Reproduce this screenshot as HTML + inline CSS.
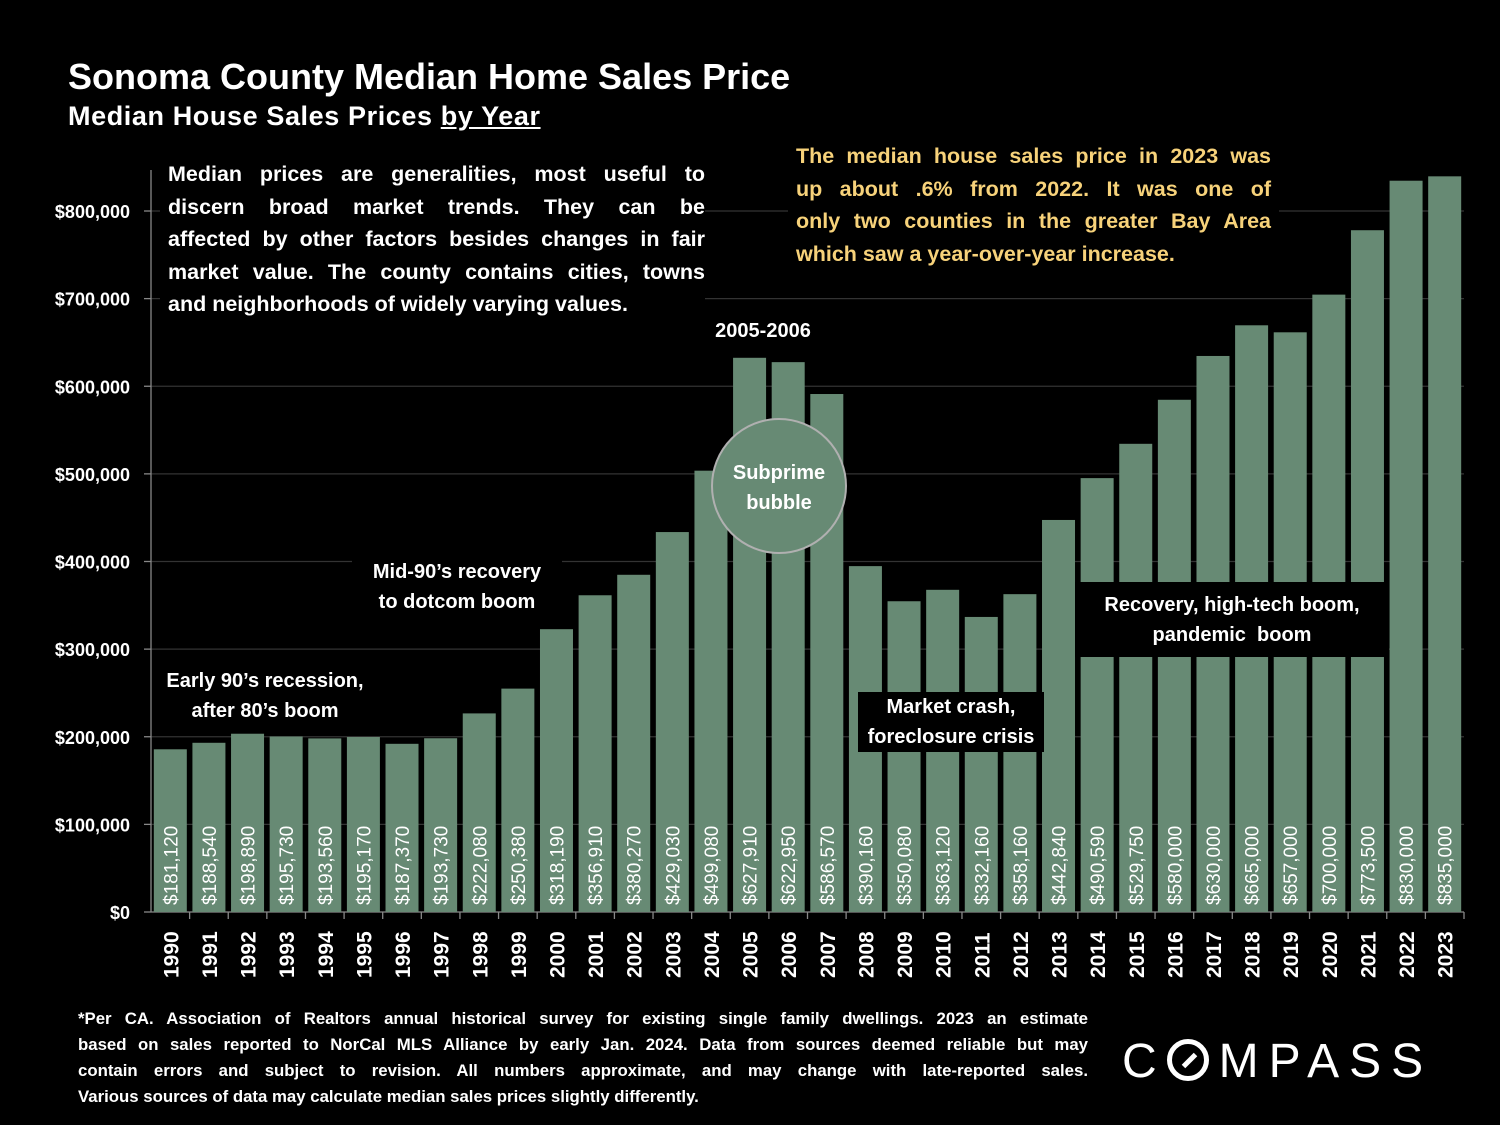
<!DOCTYPE html>
<html><head><meta charset="utf-8"><style>
body{margin:0;background:#000;width:1500px;height:1125px;overflow:hidden;font-family:"Liberation Sans",sans-serif;color:#fff}
.t{position:absolute;white-space:nowrap}
.j span{display:block;text-align:justify;text-align-last:justify}
.j span.l{text-align-last:left}
</style></head><body>
<div class="t" style="left:68px;top:56px;font-size:36px;font-weight:bold">Sonoma County Median Home Sales Price</div>
<div class="t" style="left:68px;top:101px;font-size:27px;font-weight:bold;letter-spacing:0.6px">Median House Sales Prices <u>by Year</u></div>
<svg id="c" width="1500" height="1125" style="position:absolute;left:0;top:0"></svg>
<div class="t j" style="left:160px;top:158px;width:537px;font-size:21.5px;font-weight:bold;line-height:32.5px;background:#000;padding:0 0 0 8px;white-space:nowrap"><span>Median prices are generalities, most useful to</span><span>discern broad market trends. They can be</span><span>affected by other factors besides changes in fair</span><span>market value. The county contains cities, towns</span><span class="l">and neighborhoods of widely varying values.</span></div>
<div class="t j" style="left:788px;top:140px;width:475px;font-size:21.5px;font-weight:bold;line-height:32.5px;color:#f7d27a;background:#000;padding:0 8px"><span>The median house sales price in 2023 was</span><span>up about .6% from 2022. It was one of</span><span>only two counties in the greater Bay Area</span><span class="l">which saw a year-over-year increase.</span></div>
<div class="t" style="left:155px;top:666px;width:220px;text-align:center;font-size:20px;font-weight:bold;line-height:30px;background:#000">Early 90’s recession,<br>after 80’s boom</div>
<div class="t" style="left:352px;top:557px;width:210px;text-align:center;font-size:20px;font-weight:bold;line-height:30px;background:#000">Mid-90’s recovery<br>to dotcom boom</div>
<div class="t" style="left:700px;top:320px;width:126px;text-align:center;font-size:20px;font-weight:bold;background:#000">2005-2006</div>
<div class="t" style="left:711px;top:418px;width:136px;height:136px;border:2px solid #b0b0b0;border-radius:50%;background:#678a74;text-align:center;font-size:20px;font-weight:bold;line-height:30px;box-sizing:border-box;padding-top:38px">Subprime<br>bubble</div>
<div class="t" style="left:858px;top:692px;width:186px;text-align:center;font-size:20px;font-weight:bold;line-height:30px;background:#000">Market crash,<br>foreclosure crisis</div>
<div class="t" style="left:1075px;top:582px;width:314px;height:75px;text-align:center;font-size:20px;font-weight:bold;line-height:30px;background:#000;padding-top:8px;box-sizing:border-box">Recovery, high-tech boom,<br>pandemic &nbsp;boom</div>
<div class="t j" style="left:78px;top:1006px;width:1010px;font-size:16.8px;font-weight:bold;line-height:26px"><span>*Per CA. Association of Realtors annual historical survey for existing single family dwellings. 2023 an estimate</span><span>based on sales reported to NorCal MLS Alliance by early Jan. 2024. Data from sources deemed reliable but may</span><span>contain errors and subject to revision. All numbers approximate, and may change with late-reported sales.</span><span class="l">Various sources of data may calculate median sales prices slightly differently.</span></div>
<div class="t" style="left:1122px;top:1034px;font-size:48px;letter-spacing:10px;font-weight:normal">C<span style="display:inline-block;width:42px;height:42px;border:5px solid #fff;border-radius:50%;box-sizing:border-box;vertical-align:-4px;position:relative;margin-right:10px"><span style="position:absolute;left:9px;top:14px;width:17px;height:5px;background:#fff;transform:rotate(-45deg)"></span></span>MPASS</div>
<script>
const years=[1990,1991,1992,1993,1994,1995,1996,1997,1998,1999,2000,2001,2002,2003,2004,2005,2006,2007,2008,2009,2010,2011,2012,2013,2014,2015,2016,2017,2018,2019,2020,2021,2022,2023];
const prices=[181120,188540,198890,195730,193560,195170,187370,193730,222080,250380,318190,356910,380270,429030,499080,627910,622950,586570,390160,350080,363120,332160,358160,442840,490590,529750,580000,630000,665000,657000,700000,773500,830000,835000];
const ticks=[0,100000,200000,300000,400000,500000,600000,700000,800000];
const svg=document.getElementById('c');const NS='http://www.w3.org/2000/svg';
const X0=151,X1=1464,Y0=912,K=701/800000;
const bw=(X1-X0)/years.length;
const y=v=>Y0-v*K;
function mk(t,a){const e=document.createElementNS(NS,t);for(const k in a)e.setAttribute(k,a[k]);svg.appendChild(e);return e;}
ticks.forEach(v=>{
 const g=mk('line',{x1:X0,x2:X1,y1:y(v),y2:y(v),stroke:v?'#333':'#888','stroke-width':1.3});
 
 
 mk('line',{x1:X0-7,x2:X0,y1:y(v),y2:y(v),stroke:'#888','stroke-width':1.3});
 const t=mk('text',{x:130,y:y(v)+7,'text-anchor':'end','font-size':18,'font-weight':'bold',fill:'#fff'});
 t.textContent='$'+v.toLocaleString('en-US');
 
 
});
mk('line',{x1:X0,x2:X0,y1:170,y2:Y0,stroke:'#888','stroke-width':1.3});
years.forEach((yr,i)=>{
 const cx=X0+bw*(i+0.5);
 const top=y(prices[i])-4;
 const r=mk('rect',{x:cx-16.5,y:top,width:33,height:Y0-top,fill:'#678a74'});
 
 
 mk('line',{x1:X0+bw*(i+1),x2:X0+bw*(i+1),y1:Y0,y2:Y0+7,stroke:'#888','stroke-width':1.3});
 const vt=mk('text',{x:0,y:0,transform:`translate(${cx+7},905) rotate(-90)`,'font-size':19,fill:'#fff'});
 vt.textContent='$'+prices[i].toLocaleString('en-US');
 
 
 const yt=mk('text',{x:0,y:0,transform:`translate(${cx+8},978) rotate(-90)`,'font-size':21,'font-weight':'bold',fill:'#fff'});
 yt.textContent=yr;
 
 
});
</script>
</body></html>
